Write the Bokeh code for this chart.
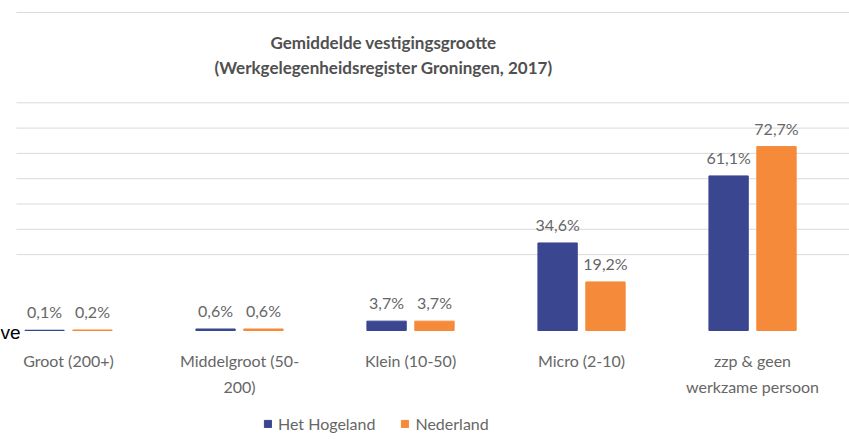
from bokeh.plotting import figure
from bokeh.models import (ColumnDataSource, Range1d, Label, Legend, LegendItem)
from bokeh.core.properties import value
from bokeh.embed import file_html
from bokeh.resources import INLINE

# ---- data ----
categories = ["Groot (200+)", "Middelgroot (50-\n200)", "Klein (10-50)",
              "Micro (2-10)", "zzp & geen\nwerkzame persoon"]
hogeland = [0.1, 0.6, 3.7, 34.6, 61.1]
nederland = [0.2, 0.6, 3.7, 19.2, 72.7]
series_names = ["Het Hogeland", "Nederland"]
title_lines = ["Gemiddelde vestigingsgrootte",
               "(Werkgelegenheidsregister Groningen, 2017)"]
grid_ticks = [30, 40, 50, 60, 70, 80, 90, 125.7]

# ---- layout / style ----
BLUE = "#3A4690"
ORANGE = "#F58A3A"
TXT = "#666666"
FONT = "Lato"
FS = "16px"
offset = 0.14
bar_w = 0.23
X0, X1 = -0.3977, 4.567
GRID_LEFT = X0 + 16 / 171

def fmt(v):
    return f"{v:.1f}".replace(".", ",") + "%"

idx = list(range(len(categories)))
src_h = ColumnDataSource(dict(x=[i - offset for i in idx], top=hogeland,
                              lab=[fmt(v) for v in hogeland]))
src_n = ColumnDataSource(dict(x=[i + offset for i in idx], top=nederland,
                              lab=[fmt(v) for v in nederland]))
src_c = ColumnDataSource(dict(x=idx, y=[0] * len(categories), text=categories))
src_g = ColumnDataSource(dict(x0=[GRID_LEFT] * len(grid_ticks),
                              x1=[X1] * len(grid_ticks), y=grid_ticks))

p = figure(width=849, height=439, output_backend="svg", toolbar_location=None,
           x_range=Range1d(X0, X1), y_range=Range1d(-43.08, 130.43),
           min_border=0, min_border_left=0, min_border_right=0,
           min_border_top=0, min_border_bottom=0)
p.outline_line_color = None
p.background_fill_color = "white"
p.border_fill_color = "white"
p.xaxis.visible = False
p.yaxis.visible = False
p.xgrid.visible = False
p.ygrid.visible = False

# gridlines
p.segment(x0="x0", x1="x1", y0="y", y1="y", source=src_g,
          line_color="#DADADA", line_width=1)

r_h = p.vbar(x="x", top="top", width=bar_w, source=src_h, color=BLUE)
r_n = p.vbar(x="x", top="top", width=bar_w, source=src_n, color=ORANGE)

for s in (src_h, src_n):
    p.text(x="x", y="top", text="lab", source=s, y_offset=-9,
           text_align="center", text_baseline="bottom",
           text_font=value(FONT), text_font_size=FS, text_color=TXT)

# category labels
p.text(x="x", y="y", text="text", source=src_c, y_offset=20,
       text_align="center", text_baseline="top", text_line_height=1.38,
       text_font=value(FONT), text_font_size=FS, text_color=TXT)

# title
for text, y in zip(title_lines, [397, 372]):
    p.add_layout(Label(x=383, y=y, x_units="screen", y_units="screen", text=text,
                       text_align="center", text_baseline="middle",
                       text_font=FONT, text_font_size="17px",
                       text_font_style="bold", text_color="#505050"))

# stray fragment at the left edge
p.add_layout(Label(x=0, y=107, x_units="screen", y_units="screen", text="ve",
                   text_align="left", text_baseline="alphabetic",
                   text_font="Liberation Sans", text_font_size="19px",
                   text_color="black"))

legend = Legend(items=[LegendItem(label=series_names[0], renderers=[r_h]),
                       LegendItem(label=series_names[1], renderers=[r_n])],
                orientation="horizontal", location=(263, 6),
                glyph_width=9, glyph_height=9, label_standoff=6, spacing=25,
                padding=0, margin=0, border_line_color=None,
                background_fill_alpha=0, label_text_font=FONT,
                label_text_font_size=FS, label_text_color=TXT,
                label_height=17)
p.add_layout(legend)

open("out.html", "w").write(file_html(p, INLINE))
